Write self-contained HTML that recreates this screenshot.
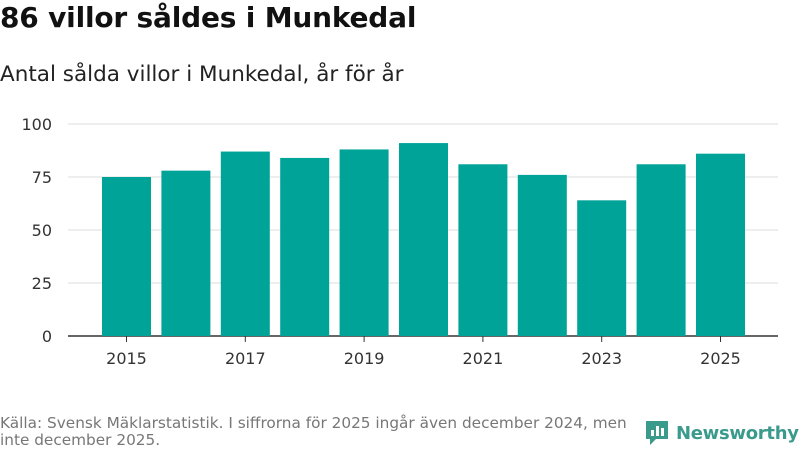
<!DOCTYPE html>
<html><head><meta charset="utf-8"><style>
body{margin:0;width:800px;height:450px;background:#fff;font-family:"DejaVu Sans","Liberation Sans",sans-serif;overflow:hidden;position:relative}
#title{position:absolute;left:0;top:1px;font-size:28px;font-weight:bold;color:#111;letter-spacing:-0.2px}
#sub{position:absolute;left:0;top:62px;font-size:21.5px;color:#222}
#src{position:absolute;left:0;top:415px;font-size:15.3px;color:#777;line-height:17px;width:640px}
#logo{position:absolute;left:644px;top:419px;display:flex;align-items:center;gap:6px;color:#3a9a8c;font-weight:bold;font-size:18px;letter-spacing:-0.3px}
svg{position:absolute;left:0;top:0}
</style></head><body>
<div id="title">86 villor såldes i Munkedal</div>
<div id="sub">Antal sålda villor i Munkedal, år för år</div>
<svg id="chart" width="800" height="450"></svg>
<div id="src">Källa: Svensk Mäklarstatistik. I siffrorna för 2025 ingår även december 2024, men inte december 2025.</div>
<div id="logo"><svg width="26" height="28" viewBox="0 0 26 28" style="position:static"><path d="M2 2h22v18H12l-6 6v-6H2z" fill="#3a9a8c"/><rect x="7" y="11" width="3" height="6" fill="#fff"/><rect x="12" y="7" width="3" height="10" fill="#fff"/><rect x="17" y="9" width="3" height="8" fill="#fff"/></svg><span>Newsworthy</span></div>
<script>
const years=[2015,2016,2017,2018,2019,2020,2021,2022,2023,2024,2025];
const values=[75,78,87,84,88,91,81,76,64,81,86];
const yTicks=[0,25,50,75,100];
const xTickLabels=[2015,2017,2019,2021,2023,2025];
const NS="http://www.w3.org/2000/svg";
const svg=document.getElementById('chart');
const y=v=>336-v*2.12;
const x=i=>126.5+i*59.4;
function mk(t,a){const e=document.createElementNS(NS,t);for(const k in a)e.setAttribute(k,a[k]);svg.appendChild(e);return e;}
yTicks.forEach(t=>{
  const l=mk('line',{x1:68,x2:778,y1:y(t),y2:y(t),stroke:t===0?'#333':'#ddd','stroke-width':t===0?1.5:1});
  
  
  const tx=mk('text',{x:52,y:y(t)+6,'text-anchor':'end','font-size':16,fill:'#333'});
  tx.textContent=t;
  
  
});
years.forEach((yr,i)=>{
  const r=mk('rect',{x:x(i)-24.5,y:y(values[i]),width:49,height:y(0)-y(values[i]),fill:'#00a398'});
  
  
  if(xTickLabels.includes(yr)){
    const tk=mk('line',{x1:x(i),x2:x(i),y1:336,y2:342,stroke:'#333'});
    
    
    const t=mk('text',{x:x(i),y:364,'text-anchor':'middle','font-size':16,fill:'#333'});
    t.textContent=yr;
    
    
  }
});
</script>
</body></html>
